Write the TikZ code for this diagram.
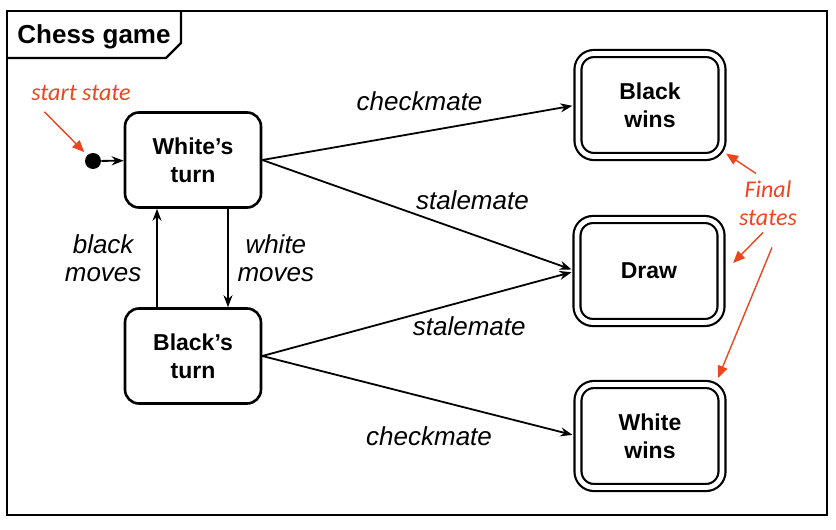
\documentclass[tikz,border=0pt]{standalone}
\usepackage{fontspec}
\setmainfont{Liberation Sans}
\newfontfamily\notefont{Carlito}
\usetikzlibrary{arrows.meta}
\definecolor{notered}{RGB}{240,68,30}

\begin{document}
\begin{tikzpicture}[x=0.5pt,y=-0.5pt,
  state/.style={draw,line width=1.3pt,rounded corners=7pt,minimum width=68pt,
    minimum height=47.5pt,align=center,font=\fontsize{11.5}{14}\selectfont\bfseries},
  final/.style={state,double,line width=1.1pt,double distance=2.4pt,rounded corners=8pt,
    minimum width=72pt,minimum height=51.5pt},
  trans/.style={-{Stealth[length=6pt,width=4.5pt]},line width=0.9pt},
  tofinal/.style={trans,shorten >=2.3pt},
  lbl/.style={font=\fontsize{13}{14}\selectfont\itshape,align=center},
  note/.style={text=notered,font=\fontsize{12}{14}\selectfont\notefont\itshape,align=center},
  notearrow/.style={draw=notered,line width=0.7pt,-{Triangle[length=6pt,width=5pt]}}]

  \useasboundingbox (0,0) rectangle (836,530);

  \draw[line width=1.4pt] (7,11) rectangle (827,515);
  \draw[line width=1.2pt] (7,58) -- (166,58) -- (181,43) -- (181,11);
  \node[font=\fontsize{13}{15}\selectfont\bfseries] (title) at (94,37) {Chess game};

  \node[circle,fill,inner sep=0pt,minimum size=8pt] (start) at (93,161) {};
  \node[state] (white) at (193,160) {White’s\\turn};
  \node[state] (black) at (193,356) {Black’s\\turn};

  \node[final] (bwin) at (650,105) {Black\\wins};
  \node[final] (drawst) at (649,271) {Draw};
  \node[final] (wwin) at (650,436) {White\\wins};

  \draw[trans] (start) -- (white);
  \draw[tofinal] (white.east) -- (bwin.west) node[lbl,pos=0.5,above=7pt] {checkmate};
  \draw[tofinal] (white.east) -- (drawst.west) node[lbl,pos=0.67,above=8.5pt] {stalemate};
  \draw[tofinal] (black.east) -- (drawst.west) node[lbl,pos=0.66,below=4.5pt] {stalemate};
  \draw[tofinal] (black.east) -- (wwin.west) node[lbl,pos=0.53,below=10.5pt] {checkmate};

  \draw[trans] ([xshift=17.5pt]white.south) -- ([xshift=17.5pt]black.north)
    node[lbl,midway,right=1pt] {white\\moves};
  \draw[trans] ([xshift=-18pt]black.north) -- ([xshift=-18pt]white.south)
    node[lbl,midway,left=4pt] {black\\moves};

  \node[note] (startnote) at (81,93) {start state};
  \draw[notearrow,shorten >=2pt] ([xshift=10pt,yshift=-2pt]startnote.south west) -- (start);

  \node[note] (finalnote) at (768,203) {Final\\states};
  \draw[notearrow] ([xshift=-6pt]finalnote.north) -- ([shift={(1.5pt,2pt)}]bwin.south east);
  \draw[notearrow] ([xshift=-2.5pt]finalnote.south) -- ([shift={(5.5pt,4pt)}]drawst.east);
  \draw[notearrow] ([shift={(2pt,-7.5pt)}]finalnote.south) -- ([shift={(-2.5pt,2.75pt)}]wwin.north east);

\end{tikzpicture}
\end{document}
